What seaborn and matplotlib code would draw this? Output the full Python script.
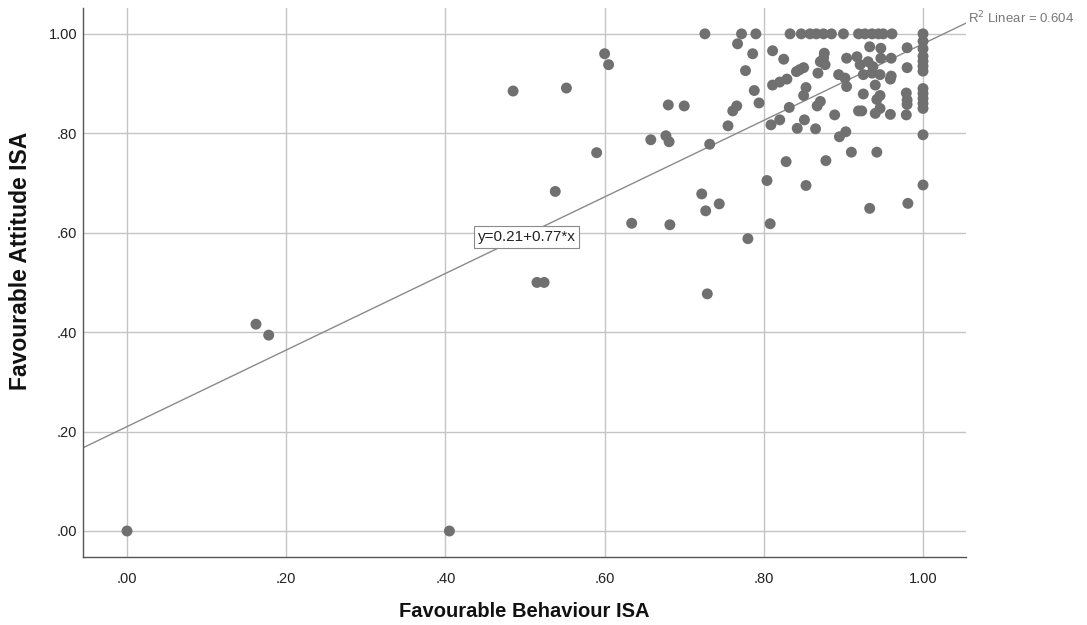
import matplotlib
matplotlib.use("Agg")
import matplotlib.pyplot as plt
import seaborn as sns
import pandas as pd
import numpy as np

behaviour = [
    0.000, 0.405, 0.162, 0.178, 0.485, 0.552, 0.600, 0.605, 0.590, 0.538,
    0.515, 0.524, 0.634, 0.682, 0.658, 0.677, 0.681, 0.680, 0.700, 0.726,
    0.732, 0.722, 0.744, 0.727, 0.729, 0.780, 0.808, 0.804, 0.853, 0.828,
    0.878, 0.755, 0.761, 0.766, 0.794, 0.788, 0.777, 0.767, 0.772, 0.790,
    0.786, 0.811, 0.825, 0.809, 0.820, 0.842, 0.851, 0.865, 0.832, 0.811,
    0.820, 0.829, 0.853, 0.850, 0.867, 0.871, 0.841, 0.845, 0.850, 0.868,
    0.871, 0.876, 0.877, 0.833, 0.847, 0.858, 0.866, 0.875, 0.885, 0.900,
    0.919, 0.927, 0.936, 0.944, 0.950, 0.961, 0.933, 0.947, 0.980, 0.904,
    0.917, 0.921, 0.931, 0.937, 0.947, 0.960, 0.894, 0.902, 0.904, 0.925,
    0.936, 0.946, 0.940, 0.960, 0.959, 0.980, 0.925, 0.946, 0.942, 0.979,
    0.980, 0.980, 0.919, 0.923, 0.940, 0.946, 0.889, 0.959, 0.979, 0.895,
    0.903, 0.910, 0.942, 0.981, 0.933, 0.875,
    1.000, 1.000, 1.000, 1.000, 1.000, 1.000, 1.000, 1.000, 1.000, 1.000,
    1.000, 1.000, 1.000, 1.000,
]
attitude = [
    0.000, 0.000, 0.416, 0.394, 0.885, 0.891, 0.960, 0.938, 0.761, 0.683,
    0.500, 0.500, 0.619, 0.616, 0.787, 0.795, 0.783, 0.857, 0.855, 1.000,
    0.778, 0.678, 0.658, 0.644, 0.477, 0.588, 0.618, 0.705, 0.695, 0.743,
    0.745, 0.815, 0.845, 0.855, 0.861, 0.886, 0.926, 0.980, 1.000, 1.000,
    0.960, 0.966, 0.949, 0.817, 0.827, 0.810, 0.827, 0.809, 0.852, 0.897,
    0.903, 0.909, 0.892, 0.876, 0.855, 0.864, 0.924, 0.928, 0.932, 0.921,
    0.944, 0.961, 0.938, 1.000, 1.000, 1.000, 1.000, 1.000, 1.000, 1.000,
    1.000, 1.000, 1.000, 1.000, 1.000, 1.000, 0.974, 0.971, 0.972, 0.951,
    0.954, 0.938, 0.944, 0.934, 0.951, 0.951, 0.918, 0.911, 0.894, 0.918,
    0.921, 0.918, 0.897, 0.915, 0.909, 0.932, 0.879, 0.876, 0.868, 0.881,
    0.867, 0.858, 0.845, 0.845, 0.840, 0.850, 0.837, 0.838, 0.837, 0.793,
    0.803, 0.762, 0.762, 0.659, 0.649, 0.951,
    1.000, 0.985, 0.970, 0.955, 0.945, 0.935, 0.925, 0.890, 0.880, 0.870,
    0.860, 0.850, 0.797, 0.696,
]

intercept = 0.21
slope = 0.77
r_squared = 0.604
tick_values = [0.0, 0.2, 0.4, 0.6, 0.8, 1.0]
tick_labels = [".00", ".20", ".40", ".60", ".80", "1.00"]
x_label = "Favourable Behaviour ISA"
y_label = "Favourable Attitude ISA"

df = pd.DataFrame({x_label: behaviour, y_label: attitude})

sns.set_theme(style="white")
plt.rcParams["font.family"] = ["Liberation Sans", "DejaVu Sans"]

fig = plt.figure(figsize=(10.87, 6.25), dpi=100)
ax = fig.add_axes([83 / 1087, 1 - 557 / 625, (966 - 83) / 1087, (557 - 8) / 625])

xlim = (-0.0553, 1.054)
ylim = (-0.0523, 1.052)
ax.set_xlim(*xlim)
ax.set_ylim(*ylim)

ax.set_xticks(tick_values)
ax.set_xticklabels(tick_labels)
ax.set_yticks(tick_values)
ax.set_yticklabels(tick_labels)
ax.grid(True, color="#c4c4c4", linewidth=1.0)
ax.set_axisbelow(True)

for s in ["top", "right"]:
    ax.spines[s].set_visible(False)
for s in ["left", "bottom"]:
    ax.spines[s].set_color("#555555")
    ax.spines[s].set_linewidth(1.0)

ax.tick_params(axis="both", length=0, labelsize=10.5, colors="#222222")
ax.tick_params(axis="x", pad=11)
ax.tick_params(axis="y", pad=4)

# fit line
xs = np.array(xlim)
ax.plot(xs, intercept + slope * xs, color="#8a8a8a", linewidth=1.0, zorder=2)

sns.scatterplot(data=df, x=x_label, y=y_label, ax=ax, s=62, color="#707070",
                edgecolor="none", linewidth=0, zorder=3)

ax.set_xlabel(x_label, fontsize=14.5, fontweight="bold", color="#111111", labelpad=11)
ax.set_ylabel(y_label, fontsize=16.5, fontweight="bold", color="#111111")
ax.yaxis.set_label_coords(-0.058, 0.54)

ax.text(0.502, 0.592, "y=0.21+0.77*x", fontsize=11, color="#222222",
        ha="center", va="center", zorder=4,
        bbox=dict(boxstyle="square,pad=0.25", facecolor="white", edgecolor="#8a8a8a", linewidth=0.8))

ax.text(1.002, 0.982, "R$^2$ Linear = 0.604", transform=ax.transAxes,
        fontsize=9.5, color="#777777", ha="left", va="center", clip_on=False)

fig.savefig("out.png", dpi=100)
